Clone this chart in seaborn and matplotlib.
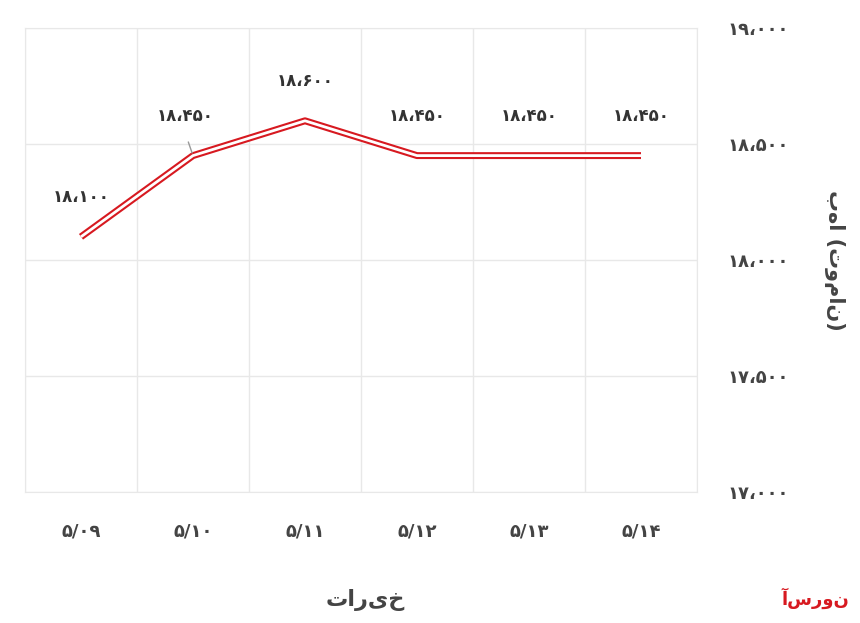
import matplotlib
matplotlib.use('Agg')
import matplotlib.pyplot as plt
import seaborn as sns

dates = ['۵/۰۹', '۵/۱۰', '۵/۱۱', '۵/۱۲', '۵/۱۳', '۵/۱۴']
prices = [18100, 18450, 18600, 18450, 18450, 18450]
price_labels = ['۱۸،۱۰۰', '۱۸،۴۵۰', '۱۸،۶۰۰', '۱۸،۴۵۰', '۱۸،۴۵۰', '۱۸،۴۵۰']
yticks = [17000, 17500, 18000, 18500, 19000]
ytick_labels = ['۱۷،۰۰۰', '۱۷،۵۰۰', '۱۸،۰۰۰', '۱۸،۵۰۰', '۱۹،۰۰۰']

sns.set_style('white')
plt.rcParams['font.family'] = ['DejaVu Sans']

fig = plt.figure(figsize=(8.6, 6.23), dpi=100)
ax = fig.add_axes([25 / 860, 1 - 492 / 623, 672 / 860, 464 / 623])

x = list(range(len(dates)))
sns.lineplot(x=x, y=prices, ax=ax, color='#d71920', linewidth=5, solid_capstyle='butt')
sns.lineplot(x=x, y=prices, ax=ax, color='white', linewidth=2, solid_capstyle='butt')

for i, (p, lab) in enumerate(zip(prices, price_labels)):
    ax.annotate(lab, (i, p), xytext=(-6 if i == 1 else 0, 22), textcoords='offset points',
                ha='center', va='bottom', fontsize=12, fontweight='bold', color='#333333')
ax.annotate('', (1, 18450), xytext=(0.95, 18520),
            arrowprops=dict(arrowstyle='-', color='#999999', lw=1))

ax.set_xlim(-0.5, 5.5)
ax.set_ylim(17000, 19000)
ax.set_xticks([i - 0.5 for i in range(7)], minor=False)
ax.set_xticklabels([])
ax.set_xticks(x, minor=True)
ax.set_xticklabels(dates, minor=True, fontsize=13, fontweight='bold', color='#444444')
ax.tick_params(axis='x', which='both', length=0, pad=22)
ax.yaxis.tick_right()
ax.set_yticks(yticks)
ax.set_yticklabels(ytick_labels, fontsize=13, fontweight='bold', color='#444444')
ax.tick_params(axis='y', length=0, pad=22)
ax.grid(True, color='#e8e8e8', linewidth=1)
for s in ax.spines.values():
    s.set_color('#e8e8e8')

fig.text(835 / 860, 1 - 260 / 623, 'بها (تومان)', rotation=270, ha='center', va='center',
         fontsize=15, fontweight='bold', color='#444444')
fig.text(365 / 860, 1 - 600 / 623, 'تاریخ', ha='center', va='center',
         fontsize=16, fontweight='bold', color='#444444')
fig.text(815 / 860, 1 - 598 / 623, 'آسرون', ha='center', va='center',
         fontsize=13, fontweight='bold', color='#d71920')

fig.savefig('out.png', dpi=100)
